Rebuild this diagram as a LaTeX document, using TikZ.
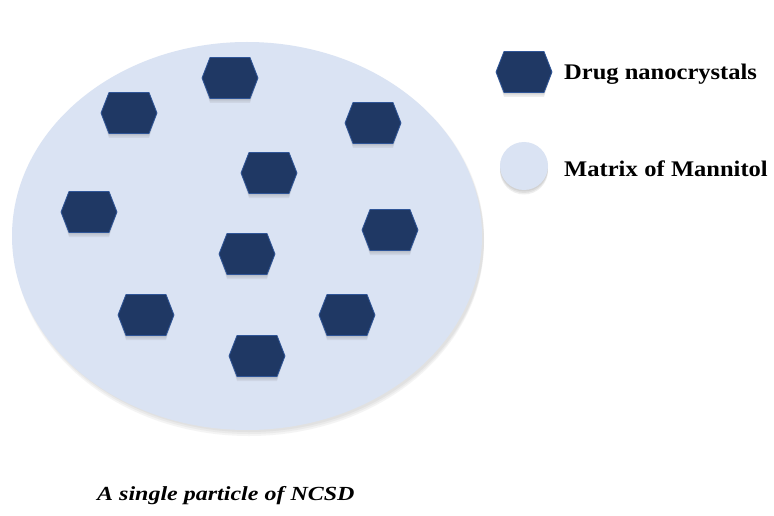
\documentclass[tikz,border=0pt]{standalone}
\usepackage{fontspec}
\setmainfont{Liberation Serif}
\newfontfamily\legfont{Liberation Serif}[FakeStretch=1.1]
\newfontfamily\capfont{Liberation Serif}[FakeStretch=1.2]
\definecolor{navy}{RGB}{31,56,100}
\definecolor{navyedge}{RGB}{47,85,151}
\definecolor{matrixc}{RGB}{218,227,243}
\definecolor{shadowc}{RGB}{120,120,120}
\tikzset{
  hexfill/.style={fill=navy, draw=navyedge, line width=0.8pt, line join=round},
  hexshade/.style={fill=shadowc, opacity=0.12},
  hexa/.pic={
    \foreach \d in {1.5,3,4.5}{
      \fill[hexshade] (-28+0.3*\d,\d)--(-20,-20.5+\d)--(20,-20.5+\d)--(28-0.3*\d,\d)--(20,20.5+\d)--(-20,20.5+\d)--cycle;
    }
    \path[hexfill] (-28,0)--(-20,-20.5)--(20,-20.5)--(28,0)--(20,20.5)--(-20,20.5)--cycle;
  },
  legtext/.style={anchor=base west, font=\legfont\bfseries\fontsize{22.3}{26}\selectfont, inner sep=0pt},
}
\begin{document}
\begin{tikzpicture}[x=1pt,y=-1pt]
\useasboundingbox[fill=white] (0,0) rectangle (774,516);
% particle matrix with soft shadow
\foreach \d in {2,4,6}{
  \fill[shadowc, opacity=0.08] (249,236+\d) ellipse [x radius=235, y radius=194];
}
\fill[matrixc] (247,236) ellipse [x radius=235, y radius=194];
% drug nanocrystals
\foreach \x/\y in {230/78, 129/113, 373/123, 269/173, 89/212, 390/230, 247/254, 146/315, 347/315, 257/356}{
  \pic at (\x,\y) {hexa};
}
% legend
\pic at (524,72) {hexa};
\foreach \d in {1.5,3,4.5}{
  \fill[shadowc, opacity=0.12] (524,166+\d) circle [radius=24];
}
\fill[matrixc] (524,166) circle [radius=24];
\node[legtext] (l1) at (564,80) {Drug nanocrystals};
\node[legtext] (l2) at (564,177) {Matrix\hspace{0.3em}of Mannitol};
% caption
\node[anchor=base west, font=\capfont\bfseries\itshape\fontsize{20}{24}\selectfont, inner sep=0pt] (cap) at (97,500) {A single particle of NCSD};
\end{tikzpicture}
\end{document}
